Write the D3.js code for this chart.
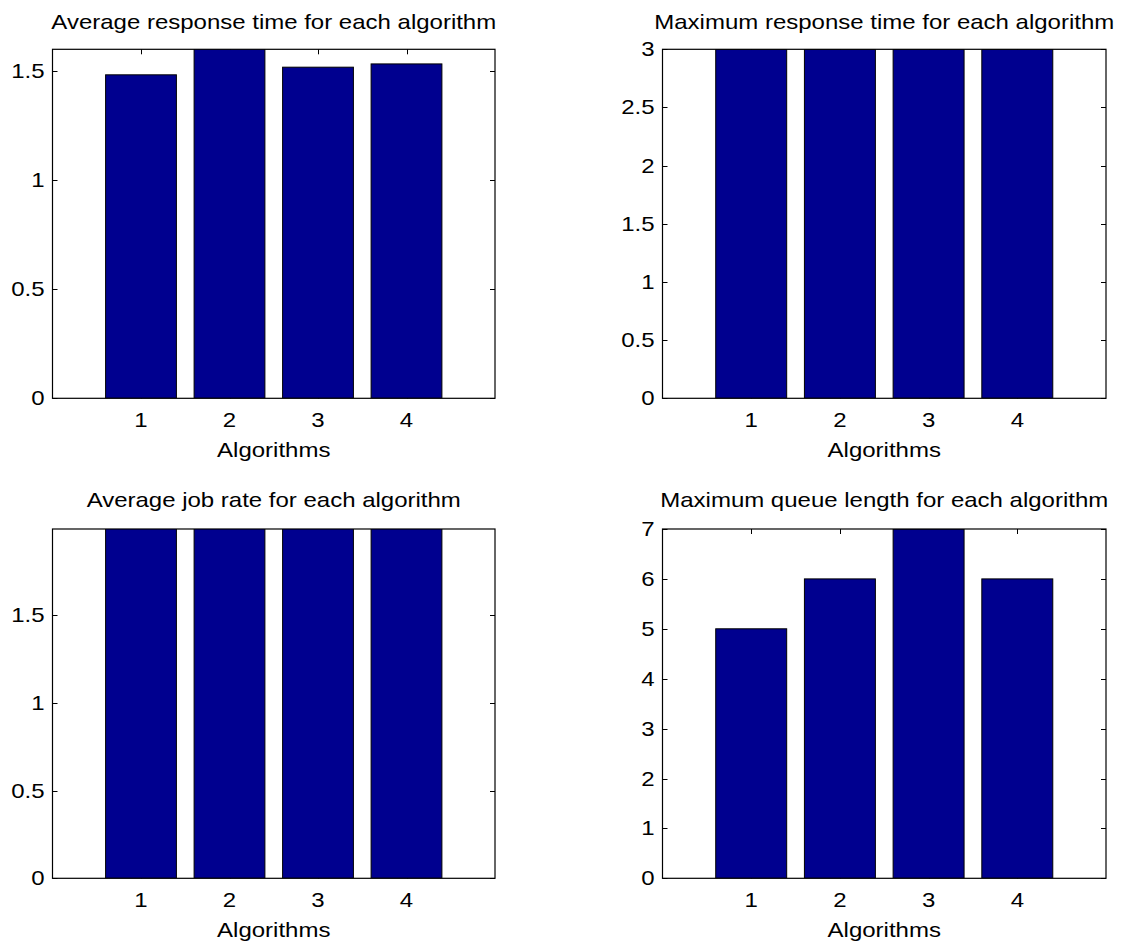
<!DOCTYPE html>
<html>
<head>
<meta charset="utf-8">
<script src="https://cdn.jsdelivr.net/npm/d3@7"></script>
<style>
  html, body { margin: 0; padding: 0; background: #fff; }
  svg { display: block; }
  text { font-family: "Liberation Sans", Arial, sans-serif; fill: #000; }
</style>
</head>
<body>
<svg id="fig" width="1122" height="943"></svg>
<script>
// Per-algorithm results
const algorithms = [1, 2, 3, 4];
const avgResponseTime = [1.483, 1.62, 1.518, 1.533];
const maxResponseTime = [3, 3, 3, 3];
const avgJobRate = [2, 2, 2, 2];
const maxQueueLength = [5, 6, 7, 6];

// Axis limits and tick values for each subplot
const avgResponseTicks = [0, 0.5, 1, 1.5];
const maxResponseTicks = [0, 0.5, 1, 1.5, 2, 2.5, 3];
const avgJobRateTicks = [0, 0.5, 1, 1.5];
const maxQueueTicks = [0, 1, 2, 3, 4, 5, 6, 7];

const panels = [
  { title: "Average response time for each algorithm", values: avgResponseTime,
    ymax: 1.6, ticks: avgResponseTicks, box: [52.5, 49.3, 495, 398.3], titleGap: 20.5 },
  { title: "Maximum response time for each algorithm", values: maxResponseTime,
    ymax: 3, ticks: maxResponseTicks, box: [662.5, 49.3, 1106, 398.3], titleGap: 20.5 },
  { title: "Average job rate for each algorithm", values: avgJobRate,
    ymax: 1.99, ticks: avgJobRateTicks, box: [52.5, 529, 495, 878.3], titleGap: 22 },
  { title: "Maximum queue length for each algorithm", values: maxQueueLength,
    ymax: 7, ticks: maxQueueTicks, box: [662.5, 529, 1106, 878.3], titleGap: 22 }
];

const svg = d3.select("#fig");
const FONT = 20, STRETCH = 1.2, TICK = 5;
const barFill = "#00008f";

// text with the horizontally wide glyph shape
function label(g, x, y, str, anchor) {
  g.append("g")
    .attr("transform", `translate(${x},${y}) scale(${STRETCH},1)`)
    .append("text")
    .attr("font-size", FONT)
    .attr("text-anchor", anchor)
    .text(str);
}

panels.forEach((p, i) => {
  const [x0, y0, x1, y1] = p.box;
  const x = d3.scaleLinear().domain([0, 5]).range([x0, x1]);
  const y = d3.scaleLinear().domain([0, p.ymax]).range([y1, y0]);
  const g = svg.append("g");

  const clipId = "clip" + i;
  g.append("clipPath").attr("id", clipId)
    .append("rect").attr("x", x0).attr("y", y0).attr("width", x1 - x0).attr("height", y1 - y0);

  g.append("rect").attr("x", x0).attr("y", y0).attr("width", x1 - x0).attr("height", y1 - y0)
    .attr("fill", "#fff");

  // inward ticks on all four sides (drawn beneath the bars)
  const tk = g.append("g").attr("stroke", "#000").attr("stroke-width", 1);
  p.ticks.forEach(t => {
    const yy = Math.round(y(t)) + 0.5;
    tk.append("line").attr("x1", x0).attr("x2", x0 + TICK).attr("y1", yy).attr("y2", yy);
    tk.append("line").attr("x1", x1).attr("x2", x1 - TICK).attr("y1", yy).attr("y2", yy);
  });
  algorithms.forEach(a => {
    const xx = Math.round(x(a)) + 0.5;
    tk.append("line").attr("x1", xx).attr("x2", xx).attr("y1", y0).attr("y2", y0 + TICK);
    tk.append("line").attr("x1", xx).attr("x2", xx).attr("y1", y1).attr("y2", y1 - TICK);
  });

  // bars, width 0.8 of the category spacing
  g.append("g").attr("clip-path", `url(#${clipId})`)
    .selectAll("rect").data(algorithms).join("rect")
    .attr("x", a => x(a - 0.4))
    .attr("width", a => x(a + 0.4) - x(a - 0.4))
    .attr("y", (a, k) => y(p.values[k]))
    .attr("height", (a, k) => y(0) - y(p.values[k]))
    .attr("fill", barFill)
    .attr("stroke", "#000")
    .attr("stroke-width", 1);

  // axes box
  g.append("rect").attr("x", x0).attr("y", y0).attr("width", x1 - x0).attr("height", y1 - y0)
    .attr("fill", "none").attr("stroke", "#000").attr("stroke-width", 1.2);

  // tick labels
  p.ticks.forEach(t => label(g, x0 - 8, y(t) + 7, String(t), "end"));
  algorithms.forEach(a => label(g, x(a), y1 + 29, String(a), "middle"));

  // x-axis label and title
  label(g, (x0 + x1) / 2, y1 + 58.7, "Algorithms", "middle");
  label(g, (x0 + x1) / 2, y0 - p.titleGap, p.title, "middle");
});
</script>
</body>
</html>
